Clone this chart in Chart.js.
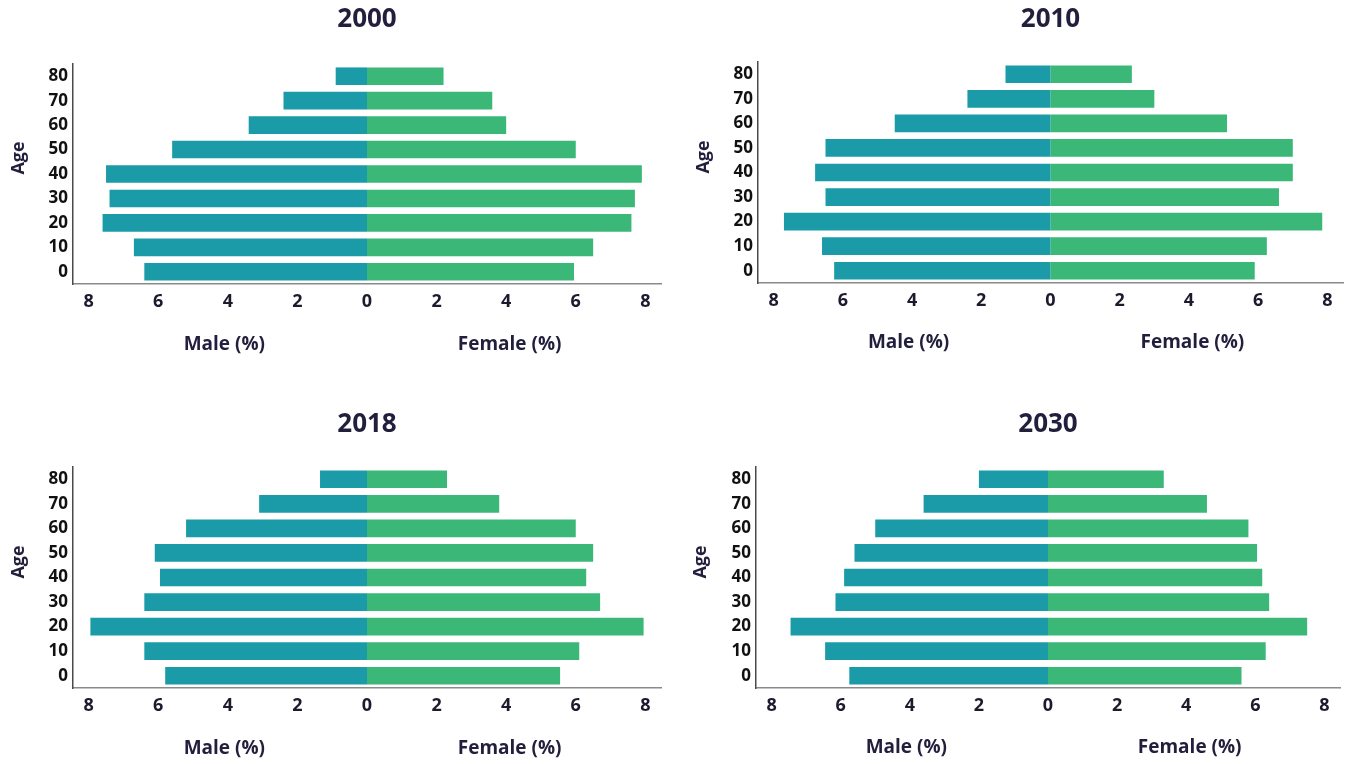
<!DOCTYPE html>
<html><head><meta charset="utf-8">
<script src="https://cdn.jsdelivr.net/npm/chart.js@4/dist/chart.umd.min.js"></script>
<style>
html,body{margin:0;padding:0;background:#fff;width:1345px;height:764px;overflow:hidden;}
.panel{position:absolute;}
canvas{display:block;}
</style></head><body>
<div class="panel" id="p0"><canvas id="c0"></canvas></div>
<div class="panel" id="p1"><canvas id="c1"></canvas></div>
<div class="panel" id="p2"><canvas id="c2"></canvas></div>
<div class="panel" id="p3"><canvas id="c3"></canvas></div>
<script>
// ---- data ----
const ageGroups = ['0','10','20','30','40','50','60','70','80'];
const years = ['2000','2010','2018','2030'];
const male2000   = [6.4, 6.7, 7.6, 7.4, 7.5, 5.6, 3.4, 2.4, 0.9];
const female2000 = [5.95,6.5, 7.6, 7.7, 7.9, 6.0, 4.0, 3.6, 2.2];
const male2010   = [6.25,6.6, 7.7, 6.5, 6.8, 6.5, 4.5, 2.4, 1.3];
const female2010 = [5.9, 6.25,7.85,6.6, 7.0, 7.0, 5.1, 3.0, 2.35];
const male2018   = [5.8, 6.4, 7.95,6.4, 5.95,6.1, 5.2, 3.1, 1.35];
const female2018 = [5.55,6.1, 7.95,6.7, 6.3, 6.5, 6.0, 3.8, 2.3];
const male2030   = [5.75,6.45,7.45,6.15,5.9, 5.6, 5.0, 3.6, 2.0];
const female2030 = [5.6, 6.3, 7.5, 6.4, 6.2, 6.05,5.8, 4.6, 3.35];
const xTickValues = [-8,-6,-4,-2,0,2,4,6,8];
const maleSeries = [male2000, male2010, male2018, male2030];
const femaleSeries = [female2000, female2010, female2018, female2030];

// ---- layout (page pixels) ----
const panels = [
  {box:[0,0,672,400],    area:[73,64,661,284],   titleY:20,  labelY:345, ageX:19,  ageY:158},
  {box:[672,0,673,400],  area:[758,62,1343,283], titleY:20,  labelY:343, ageX:704, ageY:157},
  {box:[0,400,672,364],  area:[73,467,661,688],  titleY:425, labelY:749, ageX:19,  ageY:562},
  {box:[672,400,673,364],area:[756,467,1340,688],titleY:425, labelY:748, ageX:701, ageY:562}
];
const X_AXIS_H = 40;
const TEXT = '#221f3c';
const FONT = '"Open Sans", "DejaVu Sans", sans-serif';

const textPlugin = {
  id: 'texts',
  afterDraw(chart, args, opts) {
    const p = opts.panel; if (!p) return;
    const ctx = chart.ctx, x = chart.scales.x;
    const ox = p.box[0], oy = p.box[1];
    ctx.save();
    ctx.fillStyle = TEXT;
    ctx.textAlign = 'center';
    ctx.textBaseline = 'middle';
    ctx.font = 'bold 26px ' + FONT;
    ctx.fillText(opts.year, x.getPixelForValue(0), p.titleY - oy);
    ctx.font = 'bold 19px ' + FONT;
    ctx.fillText('Male (%)', x.getPixelForValue(-4.1), p.labelY - oy);
    ctx.fillText('Female (%)', x.getPixelForValue(4.1), p.labelY - oy);
    ctx.translate(p.ageX - ox, p.ageY - oy);
    ctx.rotate(-Math.PI / 2);
    ctx.font = 'bold 18px ' + FONT;
    ctx.fillText('Age', 0, 0);
    ctx.restore();
  }
};

function build() {
  panels.forEach((p, i) => {
    const div = document.getElementById('p' + i);
    div.style.left = p.box[0] + 'px';
    div.style.top = p.box[1] + 'px';
    const cv = document.getElementById('c' + i);
    cv.width = p.box[2]; cv.height = p.box[3];
    cv.style.width = p.box[2] + 'px'; cv.style.height = p.box[3] + 'px';
    const yAxisW = p.area[0] - p.box[0];
    const padTop = p.area[1] - p.box[1];
    const padRight = p.box[0] + p.box[2] - p.area[2];
    const padBottom = p.box[1] + p.box[3] - p.area[3] - X_AXIS_H;
    new Chart(cv, {
      type: 'bar',
      data: {
        labels: ageGroups,
        datasets: [
          {label: 'Male', data: maleSeries[i].map(v => -v), backgroundColor: '#1a9ba7',
           borderWidth: 0, barPercentage: 0.72, categoryPercentage: 1},
          {label: 'Female', data: femaleSeries[i], backgroundColor: '#3bb878',
           borderWidth: 0, barPercentage: 0.72, categoryPercentage: 1}
        ]
      },
      options: {
        indexAxis: 'y',
        responsive: false,
        maintainAspectRatio: false,
        animation: false,
        layout: {padding: {left: 0, top: padTop, right: padRight, bottom: padBottom}},
        plugins: {
          legend: {display: false},
          tooltip: {enabled: false},
          texts: {panel: p, year: years[i]}
        },
        scales: {
          x: {
            type: 'linear', stacked: true, min: -8.45, max: 8.45,
            grid: {display: false, drawTicks: false},
            border: {display: true, color: '#8a8a8a', width: 1.5},
            afterBuildTicks: ax => { ax.ticks = xTickValues.map(v => ({value: v})); },
            afterFit: ax => { ax.height = X_AXIS_H; },
            ticks: {padding: 7, color: '#1c1b2e', autoSkip: false, maxRotation: 0,
                    font: {family: FONT, weight: 'bold', size: 18},
                    callback: v => String(Math.abs(v))}
          },
          y: {
            stacked: true, reverse: true,
            grid: {display: false, drawTicks: false},
            border: {display: true, color: '#4a4a4a', width: 1.5},
            afterFit: ax => { ax.width = yAxisW; },
            ticks: {padding: 5, color: '#111', font: {family: FONT, weight: 'bold', size: 17}}
          }
        }
      },
      plugins: [textPlugin]
    });
  });
}

const fontLoads = ['bold 16px "Open Sans"', 'bold 25px "Open Sans"'].map(f => document.fonts.load(f).catch(() => null));
Promise.all(fontLoads).then(build, build);
</script>
</body></html>
